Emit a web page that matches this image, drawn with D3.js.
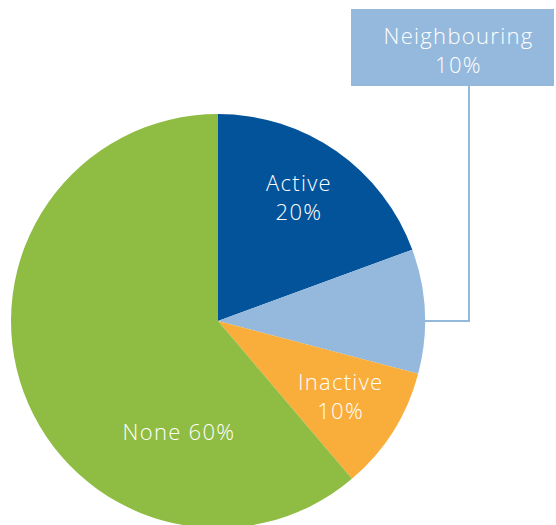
<!DOCTYPE html>
<html>
<head>
<meta charset="utf-8">
<script src="https://cdn.jsdelivr.net/npm/d3@7"></script>
<style>
  body { margin: 0; background: #fff; }
  .slice-label { font-family: "Open Sans", sans-serif; font-weight: 300; font-size: 22px; fill: #fff; letter-spacing: 1.3px; }
</style>
</head>
<body>
<div id="chart"></div>
<script>
// slice data (angles don't quite sum to the printed 100%)
var categories = ["Active", "Neighbouring", "Inactive", "None"]
var shares = [19.4, 9.7, 9.7, 61.2]
var pctLabels = ["20%", "10%", "10%", "60%"]
var colors = ["#03539b", "#95b9dc", "#f9ad3a", "#8fbc42"]

var width = 556, height = 525
var cx = 218, cy = 321, radius = 207

var svg = d3.select("#chart")
    .append("svg")
        .attr("width", width)
        .attr("height", height)

var data = categories.map(function(c, i){
    return {name: c, value: shares[i], pct: pctLabels[i], color: colors[i]}
})

var pie = d3.pie()
    .sort(null)
    .value(d => d.value)

var arcs = pie(data)

var arc = d3.arc()
    .innerRadius(0)
    .outerRadius(radius)

var g = svg.append("g")
    .attr("transform", "translate(" + cx + "," + cy + ")")

g.selectAll("path.slice")
    .data(arcs)
    .enter()
    .append("path")
    .attr("class", "slice")
    .attr("d", arc)
    .attr("fill", d => d.data.color)

// labels inside the slices
var labelArc = d3.arc().innerRadius(145).outerRadius(145)

function polar(angle, r){
    return [r * Math.sin(angle), -r * Math.cos(angle)]
}

var lineH = 29

// Active
var pA = labelArc.centroid(arcs[0])
var tA = g.append("text").attr("class", "slice-label").attr("text-anchor", "middle")
tA.append("tspan").attr("x", pA[0] - 2).attr("y", pA[1] - 11).text(arcs[0].data.name)
tA.append("tspan").attr("x", pA[0] - 2).attr("y", pA[1] - 11 + lineH).text(arcs[0].data.pct)

// Inactive
var pI = labelArc.centroid(arcs[2])
var tI = g.append("text").attr("class", "slice-label").attr("text-anchor", "middle")
tI.append("tspan").attr("x", pI[0]).attr("y", pI[1] - 8).text(arcs[2].data.name)
tI.append("tspan").attr("x", pI[0]).attr("y", pI[1] - 8 + lineH).text(arcs[2].data.pct)

// None - one line, sits low in the slice
var pN = polar(200 * Math.PI / 180, 120)
g.append("text")
    .attr("class", "slice-label")
    .attr("text-anchor", "middle")
    .attr("x", pN[0] + 2)
    .attr("y", pN[1] + 6)
    .text(arcs[3].data.name + " " + arcs[3].data.pct)

// Neighbouring callout box
var box = {x: 351, y: 9, w: 203, h: 77}

svg.append("rect")
    .attr("x", box.x)
    .attr("y", box.y)
    .attr("width", box.w)
    .attr("height", box.h)
    .attr("fill", colors[1])

var bx = box.x + 118
svg.append("polyline")
    .attr("points", [[bx, box.y + box.h], [bx, cy], [cx + radius - 1, cy]].map(p => p.join(",")).join(" "))
    .attr("fill", "none")
    .attr("stroke", colors[1])
    .attr("stroke-width", 2)

var tB = svg.append("text").attr("class", "slice-label").attr("text-anchor", "middle")
tB.append("tspan").attr("x", box.x + box.w / 2 + 6).attr("y", 44).text(arcs[1].data.name)
tB.append("tspan").attr("x", box.x + box.w / 2 + 6).attr("y", 44 + 29).text(arcs[1].data.pct)
</script>
</body>
</html>
